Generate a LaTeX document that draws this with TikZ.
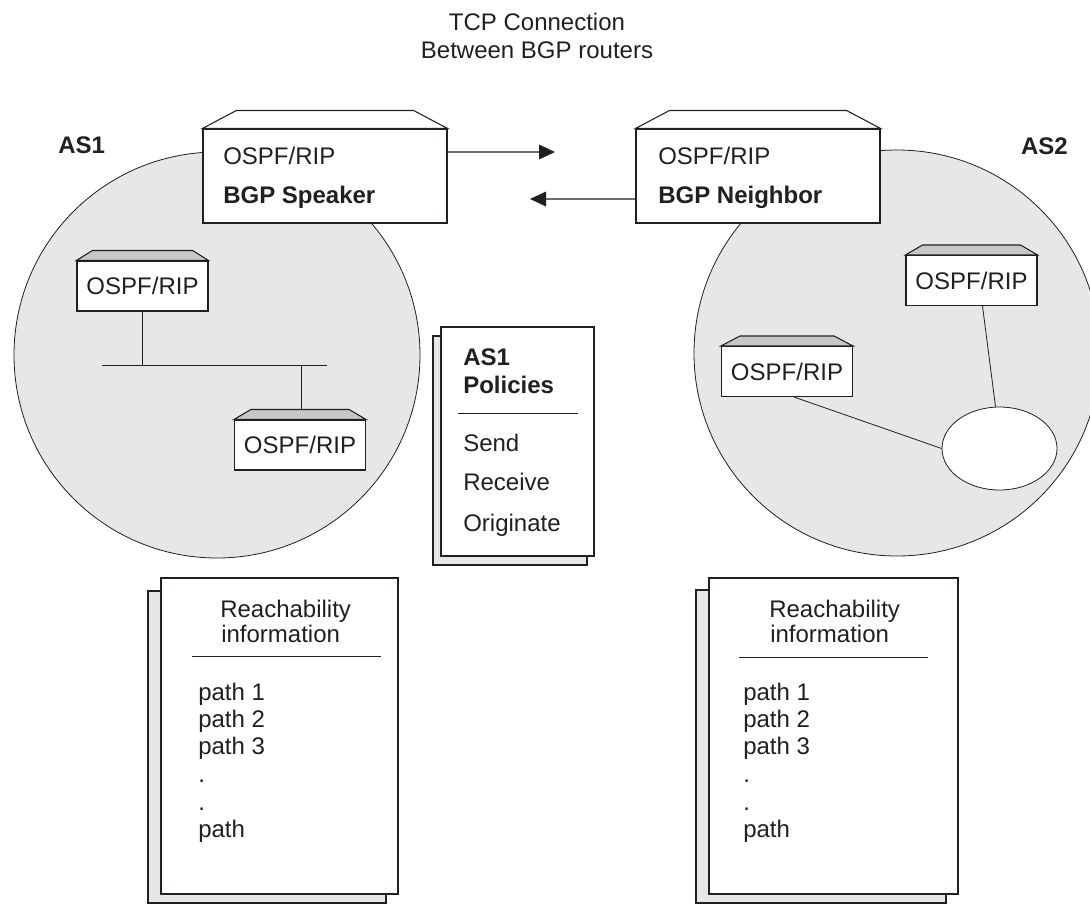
\documentclass[tikz,border=0pt]{standalone}
\usepackage{fontspec}
\setmainfont{Liberation Sans}
\usetikzlibrary{calc,arrows.meta,shapes.geometric}
\definecolor{ink}{HTML}{231F20}
\definecolor{shaft}{HTML}{6D6E71}
\definecolor{fillgray}{HTML}{E6E7E8}
\definecolor{topgray}{HTML}{C6C7C9}
\newcommand{\drawroof}[4]{%
  \draw[ink, line width=0.8pt, fill=#4] (#1.north west) -- ($(#1.north west)+(#2,-#3)$) -- ($(#1.north east)+(-#2,-#3)$) -- (#1.north east) -- cycle;}
\begin{document}
\begin{tikzpicture}[x=0.75pt,y=-0.75pt,
  font=\fontsize{18pt}{21pt}\selectfont,
  every node/.style={text=ink},
  ascircle/.style={circle, draw=ink, line width=0.6pt, fill=fillgray, minimum size=304.5pt, inner sep=0pt},
  router/.style={draw=ink, line width=0.8pt, fill=white, minimum width=98.25pt, minimum height=37.5pt, inner sep=0pt},
  bgpbox/.style={draw=ink, line width=0.8pt, fill=white, minimum width=183pt, minimum height=70.5pt, inner sep=0pt},
  sheet/.style={draw=ink, line width=0.8pt, fill=white, inner sep=0pt},
  backsheet/.style={draw=ink, line width=0.8pt, fill=fillgray},
  txt/.style={anchor=base west, inner sep=0pt},
  bold/.style={anchor=base west, inner sep=0pt, font=\fontsize{18pt}{21pt}\selectfont\bfseries},
  link/.style={draw=ink, line width=0.6pt},
  rule/.style={draw=ink, line width=0.6pt},
  arr/.style={draw=shaft, line width=0.9pt, -{Triangle[length=12pt,width=11pt,color=ink]}}]
\clip (0,0) rectangle (1090,904);
\fill[white] (0,0) rectangle (1090,904);

% title
\node[anchor=base, inner sep=0pt] (t1) at (537,30) {TCP Connection};
\node[anchor=base, inner sep=0pt] (t2) at (537,58) {Between BGP routers};

% autonomous systems
\node[ascircle] (as1) at (217,355) {};
\node[ascircle] (as2) at (897,353) {};
\node[bold] (as1lbl) at (58,153) {AS1};
\node[anchor=base east, inner sep=0pt, font=\fontsize{18pt}{21pt}\selectfont\bfseries] (as2lbl) at (1068,154) {AS2};

% AS1 internal routers and bus
\node[router] (r1) at (142.5,286) {OSPF/RIP};
\node[router] (r2) at (300,445) {OSPF/RIP};
\coordinate (busL) at (102,365);
\coordinate (busR) at (327,365);
\coordinate (r2top) at ($(r2.north)+(1,-10)$);
\draw[link] (busL) -- (busR);
\draw[link] (r1.south) -- (r1.south |- busL);
\draw[link] (r2top |- busL) -- (r2top);
\drawroof{r1}{16}{10}{topgray}
\drawroof{r2}{17}{10}{topgray}

% AS2 internal routers and network
\node[router] (r3) at (971.5,280.5) {OSPF/RIP};
\node[router] (r4) at (787,371.5) {OSPF/RIP};
\node[ellipse, draw=ink, line width=0.6pt, fill=white, minimum width=86.25pt, minimum height=62.25pt, inner sep=0pt] (el) at (999.5,448.5) {};
\draw[link] ($(r3.south)+(11,0)$) -- ($(el.north)+(-4,0)$);
\draw[link] ($(r4.south)+(7,0)$) -- (el.west);
\drawroof{r3}{17}{10}{topgray}
\drawroof{r4}{19}{10}{topgray}

% BGP routers
\node[bgpbox] (spk) at (325,176) {};
\node[bgpbox] (nbr) at (758,176) {};
\drawroof{spk}{34}{18}{white}
\drawroof{nbr}{34}{18}{white}
\node[txt] (spk1) at (223,164) {OSPF/RIP};
\node[bold] (spk2) at (223,203) {BGP Speaker};
\node[txt] (nbr1) at (658,164) {OSPF/RIP};
\node[bold] (nbr2) at (658,203) {BGP Neighbor};

% TCP connection arrows
\coordinate (tipR) at (555,152);
\coordinate (tipL) at (530,199);
\draw[arr] ($(spk.east)+(0,-24)$) -- (tipR);
\draw[arr] ($(nbr.west)+(0,23)$) -- (tipL);

% AS1 policies
\draw[backsheet] (433,336) rectangle (587,565);
\node[sheet, minimum width=114.75pt, minimum height=171.75pt] (pol) at (517.5,441.5) {};
\node[bold] (p1) at (463,365) {AS1};
\node[bold] (p2) at (463,393) {Policies};
\draw[rule] (458,413) -- (578,413);
\node[txt] (p3) at (463,451) {Send};
\node[txt] (p4) at (463,490) {Receive};
\node[txt] (p5) at (463,531) {Originate};

% reachability, left
\draw[backsheet] (148,591) rectangle (386,903);
\node[sheet, minimum width=177.75pt, minimum height=237pt] (docL) at (279.5,736) {};
\node[txt] (l1) at (220,617) {Reachability};
\node[txt] (l2) at (221,642) {information};
\draw[rule] (192,656) -- (381,656);
\node[txt] (l3) at (198,700) {path 1};
\node[txt] (l4) at (198,727) {path 2};
\node[txt] (l5) at (198,754) {path 3};
\node[txt] (l6) at (198,782) {.};
\node[txt] (l7) at (198,810) {.};
\node[txt] (l8) at (198,837) {path};

% reachability, right
\draw[backsheet] (696,590) rectangle (946,903);
\node[sheet, minimum width=186.75pt, minimum height=237pt] (docR) at (833.5,736) {};
\node[txt] (q1) at (769,617) {Reachability};
\node[txt] (q2) at (770,642) {information};
\draw[rule] (739,657) -- (928,657);
\node[txt] (q3) at (743,700) {path 1};
\node[txt] (q4) at (743,727) {path 2};
\node[txt] (q5) at (743,754) {path 3};
\node[txt] (q6) at (743,782) {.};
\node[txt] (q7) at (743,810) {.};
\node[txt] (q8) at (743,837) {path};
\end{tikzpicture}
\end{document}
